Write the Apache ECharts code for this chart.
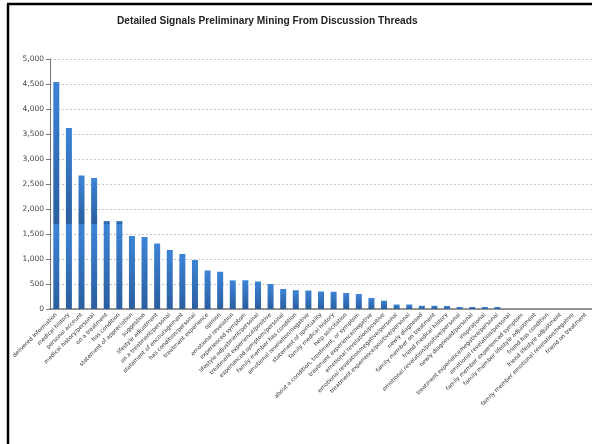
<!DOCTYPE html>
<html><head><meta charset="utf-8">
<script src="https://cdn.jsdelivr.net/npm/echarts@6/dist/echarts.min.js"></script>
<style>html,body{margin:0;padding:0;background:#fff;overflow:hidden}#c{width:592px;height:444px}</style>
</head><body><div id="c"></div>
<script>
const categories = [
 "delivered information","medical history","personal account","medical history/personal","on a treatment",
 "has condition","statement of appreciation","suggestion","lifestyle adjustment","on a treatment/personal",
 "statement of encouragement","has condition/personal","treatment experience","opinion","emotional revelation",
 "experienced symptom","lifestyle adjustment/personal","treatment experience/positive","experienced symptom/personal","family member has condition",
 "emotional revelation/negative","statement of spirituality","family medical history","help solicitation","about a condition, treatment, or symptom",
 "treatment experience/negative","emotional revelation/positive","emotional revelation/negative/personal","treatment experience/positive/personal","newly diagnosed",
 "family member on treatment","friend medical history","emotional revelation/positive/personal","newly diagnosed/personal","inspirational",
 "treatment experience/negative/personal","emotional revelation/personal","family member experienced symptom","family member lifestyle adjustment","friend has condition",
 "friend lifestyle adjustment","family member emotional revelation/negative","friend on treatment"
];
const values = [
 4540, 3620, 2670, 2620, 1760,
 1760, 1460, 1440, 1310, 1180,
 1100, 980, 770, 745, 572,
 575, 550, 500, 400, 375,
 370, 350, 345, 320, 300,
 220, 165, 90, 90, 65,
 65, 60, 40, 40, 40,
 40, 0, 0, 0, 0,
 0, 0, 0
];
const yTicks = {min: 0, max: 5000, interval: 500};
const splitAt = 1700;

const lowPart = values.map(v => Math.min(v, splitAt));
const highPart = values.map(v => Math.max(v - splitAt, 0));

const grad = () => new echarts.graphic.LinearGradient(0, 0, 0, 1, [
  {offset: 0, color: '#3d84d6'}, {offset: 1, color: '#2a5e9f'}]);

const chart = echarts.init(document.getElementById('c'));
chart.setOption({
  animation: false,
  backgroundColor: '#fff',
  title: {
    text: 'Detailed Signals Preliminary Mining From Discussion Threads',
    left: 112, top: 11,
    textStyle: {fontFamily: '"Liberation Sans", sans-serif', fontSize: 10.2, fontWeight: 'bold', color: '#222'}
  },
  grid: {left: 50, right: -5, top: 59, bottom: 135, containLabel: false},
  xAxis: {
    type: 'category', data: categories,
    axisLine: {lineStyle: {color: '#777', width: 1.5}},
    axisTick: {show: false},
    axisLabel: {interval: 0, rotate: 45, fontSize: 5.6, color: '#333', fontFamily: 'DejaVu Sans', margin: 5}
  },
  yAxis: {
    type: 'value', min: yTicks.min, max: yTicks.max, interval: yTicks.interval,
    axisLine: {show: true, lineStyle: {color: '#777'}},
    axisTick: {show: true, length: 4, lineStyle: {color: '#777'}},
    axisLabel: {fontSize: 7.5, color: '#444', fontFamily: 'DejaVu Sans', margin: 6,
      formatter: v => v.toLocaleString('en-US')},
    splitLine: {lineStyle: {color: '#c4c4c4', type: [2, 2]}}
  },
  series: [
    {type: 'bar', stack: 's', data: lowPart, barWidth: 6, itemStyle: {color: grad()}},
    {type: 'bar', stack: 's', data: highPart, barWidth: 6, itemStyle: {color: grad()}}
  ],
  graphic: [
    {type: 'line', shape: {x1: 7, y1: 4, x2: 592, y2: 4}, style: {stroke: '#000', lineWidth: 2.5}},
    {type: 'line', shape: {x1: 8, y1: 4, x2: 8, y2: 444}, style: {stroke: '#000', lineWidth: 2.5}}
  ]
});
</script></body></html>
